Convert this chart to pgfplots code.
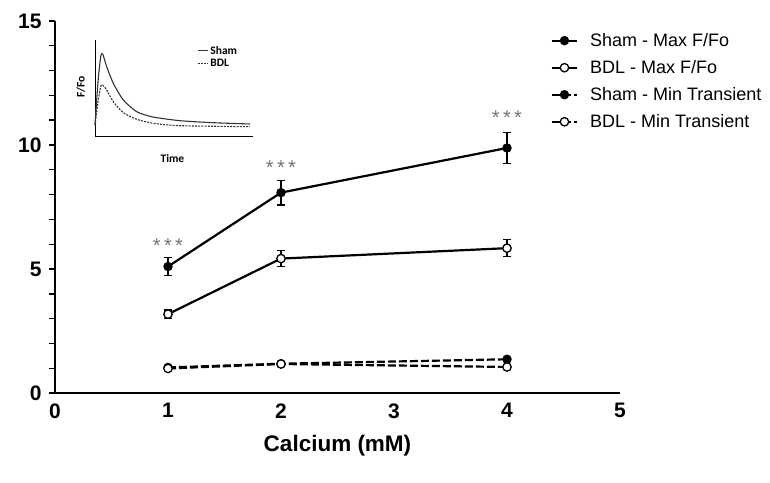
\documentclass[border=0pt]{standalone}
\usepackage{pgfplots}
\pgfplotsset{compat=1.18}
\usepackage{fontspec}
\setmainfont{Liberation Sans}
\newfontfamily\insetfont{Carlito}

\pgfplotstableread{
x y e
1 5.10 0.35
2 8.08 0.50
4 9.88 0.62
}\shammax
\pgfplotstableread{
x y e
1 3.18 0.17
2 5.42 0.32
4 5.84 0.34
}\bdlmax
\pgfplotstableread{
x y
1 1.03
2 1.18
4 1.36
}\shammin
\pgfplotstableread{
x y
1 0.99
2 1.17
4 1.05
}\bdlmin

\begin{document}
\begin{tikzpicture}[x=1pt,y=1pt]
\path[use as bounding box] (0,0) rectangle (770,482);
\begin{axis}[
    at={(55pt,89pt)}, anchor=south west,
    scale only axis, width=565pt, height=372pt,
    xmin=0, xmax=5, ymin=0, ymax=15,
    axis x line*=bottom, axis y line*=left,
    axis line style={line width=1.8pt},
    xtick={0,1,2,3,4,5}, ytick={0,5,10,15},
    minor y tick num=4,
    x tick style={draw=none},
    y tick style={line width=1.4pt, black},
    tick align=outside,
    major tick length=6pt, minor tick length=6pt,
    ticklabel style={font=\fontsize{21}{22}\selectfont\bfseries},
    yticklabel style={xshift=-4pt},
    xticklabel style={yshift=-1pt},
    /pgf/number format/assume math mode=true,
    xlabel={Calcium (mM)},
    xlabel style={font=\fontsize{22.5}{24}\selectfont\bfseries,
        at={(axis description cs:0.5,-0.142)}, anchor=center},
    legend style={at={(0.872,0.978)}, anchor=north west, draw=none, fill=none,
        font=\fontsize{18}{20}\selectfont, row sep=8.5pt,
        /tikz/every odd column/.append style={column sep=10pt}},
    legend image code/.code={\draw[mark repeat=2, mark phase=2, #1]
        plot coordinates {(0pt,0pt) (12.5pt,0pt) (25pt,0pt)};},
    legend cell align=left,
    clip=false,
]
\addplot[black, line width=2.2pt, mark=*, mark size=4.2pt,
    mark options={solid, fill=black, line width=1pt},
    error bars/.cd, y dir=both, y explicit,
    error bar style={line width=1.2pt, solid}, error mark options={rotate=90, mark size=4pt, line width=1.2pt}]
    table[x=x, y=y, y error=e] {\shammax};
\addlegendentry{Sham - Max F/Fo}
\addplot[black, line width=2.2pt, mark=*, mark size=4.2pt,
    mark options={solid, fill=white, line width=1.3pt},
    error bars/.cd, y dir=both, y explicit,
    error bar style={line width=1.2pt, solid}, error mark options={rotate=90, mark size=4pt, line width=1.2pt}]
    table[x=x, y=y, y error=e] {\bdlmax};
\addlegendentry{BDL - Max F/Fo}
\addplot[black, line width=2.2pt, dash pattern=on 8pt off 3pt, mark=*, mark size=4.2pt,
    mark options={solid, fill=black, line width=1pt}]
    table[x=x, y=y] {\shammin};
\addlegendentry{Sham - Min Transient}
\addplot[black, line width=2.2pt, dash pattern=on 8pt off 3pt, mark=*, mark size=4.2pt,
    mark options={solid, fill=white, line width=1.3pt}]
    table[x=x, y=y] {\bdlmin};
\addlegendentry{BDL - Min Transient}
\node[text=black!55, font=\fontsize{20}{20}\selectfont] at (axis cs:1,5.95) {*\,*\,*};
\node[text=black!55, font=\fontsize{20}{20}\selectfont] at (axis cs:2,9.1) {*\,*\,*};
\node[text=black!55, font=\fontsize{20}{20}\selectfont] at (axis cs:4,11.1) {*\,*\,*};
\end{axis}

\begin{axis}[
    at={(95pt,345pt)}, anchor=south west,
    scale only axis, width=158pt, height=97pt,
    xmin=0, xmax=158, ymin=0, ymax=97,
    axis x line*=bottom, axis y line*=left,
    axis line style={line width=1pt},
    xtick=\empty, ytick=\empty,
    xlabel={Time}, ylabel={F/Fo},
    xlabel style={font=\insetfont\fontsize{11.5}{12}\selectfont\bfseries,
        at={(axis description cs:0.49,-0.22)}, anchor=center},
    ylabel style={font=\insetfont\fontsize{11.5}{12}\selectfont\bfseries,
        at={(axis description cs:-0.09,0.52)}, anchor=center},
    legend style={at={(0.64,0.97)}, anchor=north west, draw=none, fill=none,
        font=\insetfont\fontsize{11.5}{12}\selectfont\bfseries, row sep=-1pt,
        inner sep=1pt,
        /tikz/every even column/.append style={column sep=1pt}},
    legend image code/.code={\draw[#1] (0pt,0pt) -- (10pt,0pt);},
    legend cell align=left,
    clip=false,
]
\addplot[black!80, line width=1.1pt, smooth, tension=0.4] coordinates {
(0,12) (3,55) (5.7,80.3) (7.7,83) (11.7,70.3) (18.3,53.7) (28.3,37) (41.7,25.3)
(58,20) (85,16.3) (118,14.3) (155,13)};
\addlegendentry{Sham}
\addplot[black!80, line width=1.1pt, dash pattern=on 2pt off 1.2pt, smooth, tension=0.4] coordinates {
(0,12) (3,35) (5.7,50.3) (7.7,52) (11.7,47) (18.3,35.3) (28.3,24.3) (41.7,17.7)
(58.3,13.7) (85,11.3) (155,10.3)};
\addlegendentry{BDL}
\end{axis}
\end{tikzpicture}
\end{document}
